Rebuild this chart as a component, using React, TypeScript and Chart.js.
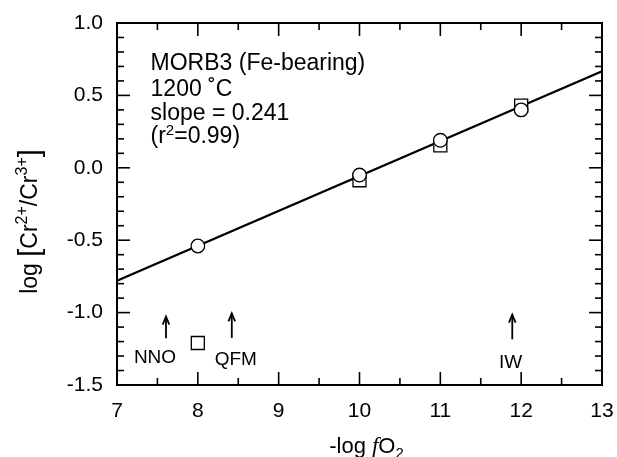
import React, { useEffect, useRef } from 'react';
import { Chart, registerables } from 'chart.js';

Chart.register(...registerables);

// ---- data ----
const xTickValues = [7, 8, 9, 10, 11, 12, 13];
const xMinorTicks = [7.5, 8.5, 9.5, 10.5, 11.5, 12.5];
const yTickValues = [-1.5, -1.0, -0.5, 0.0, 0.5, 1.0];
const yMinorTicks = [-1.4, -1.3, -1.2, -1.1, -0.9, -0.8, -0.7, -0.6, -0.4, -0.3, -0.2, -0.1, 0.1, 0.2, 0.3, 0.4, 0.6, 0.7, 0.8, 0.9];

const circleX = [8, 10, 11, 12];
const circleY = [-0.54, -0.05, 0.19, 0.40];
const squareX = [8, 10, 11, 12];
const squareY = [-1.21, -0.086, 0.155, 0.43];

const fitX = [7, 13];
const fitY = [-0.78, 0.666];

const bufferNames = ['NNO', 'QFM', 'IW'];
const bufferArrowX = [7.606, 8.42, 11.89];
const arrowTipY = [-1.028, -1.005, -1.014];
const arrowTailY = [-1.177, -1.175, -1.184];
const bufferLabelX = [7.47, 8.47, 11.87];
const bufferLabelY = [-1.35, -1.362, -1.38];

// each info line is a list of [text, isSuperscript] pieces
const infoLines: [string, boolean][][] = [
  [['MORB3 (Fe-bearing)', false]],
  [['1200 ˚C', false]],
  [['slope = 0.241', false]],
  [['(r', false], ['2', true], ['=0.99)', false]],
];
const infoX = 7.415;
const infoY = [0.675, 0.496, 0.33, 0.169];

const FONT = '"Liberation Sans", Arial, Helvetica, sans-serif';

const decorPlugin = {
  id: 'decor',
  afterDatasetsDraw(chart: any) {
    const { ctx, chartArea: a, scales } = chart;
    const xs = scales.x;
    const ys = scales.y;
    ctx.save();
    ctx.strokeStyle = '#000';
    ctx.fillStyle = '#000';

    const seg = (x1: number, y1: number, x2: number, y2: number) => {
      ctx.beginPath();
      ctx.moveTo(x1, y1);
      ctx.lineTo(x2, y2);
      ctx.stroke();
    };

    // ticks (inward, on all four sides)
    const MAJOR = 13;
    const MINOR = 7;
    ctx.lineWidth = 1.6;
    xTickValues.forEach((v) => {
      const p = xs.getPixelForValue(v);
      seg(p, a.bottom, p, a.bottom - MAJOR);
      seg(p, a.top, p, a.top + MAJOR);
    });
    xMinorTicks.forEach((v) => {
      const p = xs.getPixelForValue(v);
      seg(p, a.bottom, p, a.bottom - MINOR);
      seg(p, a.top, p, a.top + MINOR);
    });
    yTickValues.forEach((v) => {
      const p = ys.getPixelForValue(v);
      seg(a.left, p, a.left + MAJOR, p);
      seg(a.right, p, a.right - MAJOR, p);
    });
    yMinorTicks.forEach((v) => {
      const p = ys.getPixelForValue(v);
      seg(a.left, p, a.left + MINOR, p);
      seg(a.right, p, a.right - MINOR, p);
    });

    // frame
    ctx.lineWidth = 2;
    ctx.strokeRect(a.left, a.top, a.right - a.left, a.bottom - a.top);

    // buffer arrows
    ctx.lineWidth = 1.8;
    bufferNames.forEach((name, i) => {
      const px = xs.getPixelForValue(bufferArrowX[i]);
      const tip = ys.getPixelForValue(arrowTipY[i]);
      const tail = ys.getPixelForValue(arrowTailY[i]);
      seg(px, tail, px, tip);
      ctx.beginPath();
      ctx.moveTo(px - 3.3, tip + 8);
      ctx.lineTo(px, tip);
      ctx.lineTo(px + 3.3, tip + 8);
      ctx.stroke();
      ctx.font = `19px ${FONT}`;
      ctx.textAlign = 'center';
      ctx.textBaseline = 'alphabetic';
      ctx.fillText(name, xs.getPixelForValue(bufferLabelX[i]), ys.getPixelForValue(bufferLabelY[i]));
    });

    // info text
    ctx.textAlign = 'left';
    ctx.textBaseline = 'alphabetic';
    infoLines.forEach((pieces, i) => {
      let x = xs.getPixelForValue(infoX);
      const base = ys.getPixelForValue(infoY[i]);
      pieces.forEach(([t, sup]) => {
        ctx.font = sup ? `15px ${FONT}` : `23px ${FONT}`;
        ctx.fillText(t, x, base - (sup ? 8 : 0));
        x += ctx.measureText(t).width;
      });
    });

    // x-axis title: -log fO2
    {
      const parts = [
        { t: '-log ', f: `22px ${FONT}`, dy: 0 },
        { t: 'f', f: `italic 23px "Liberation Serif", "Times New Roman", serif`, dy: 0 },
        { t: 'O', f: `22px ${FONT}`, dy: 0 },
        { t: '2', f: `15px ${FONT}`, dy: 5 },
      ];
      let total = 0;
      parts.forEach((p) => { ctx.font = p.f; total += ctx.measureText(p.t).width; });
      let x = (a.left + a.right) / 2 + 7 - total / 2;
      const base = 452.5;
      ctx.textAlign = 'left';
      parts.forEach((p) => {
        ctx.font = p.f;
        ctx.fillText(p.t, x, base + p.dy);
        x += ctx.measureText(p.t).width;
      });
    }

    // y-axis title: log [Cr2+/Cr3+]
    {
      const parts = [
        { t: 'log ', f: `23px ${FONT}`, dy: 0 },
        { t: '[', f: `29px ${FONT}`, dy: 2 },
        { t: 'Cr', f: `23px ${FONT}`, dy: 0 },
        { t: '2+', f: `16px ${FONT}`, dy: -10 },
        { t: '/Cr', f: `23px ${FONT}`, dy: 0 },
        { t: '3+', f: `16px ${FONT}`, dy: -10 },
        { t: ']', f: `29px ${FONT}`, dy: 2 },
      ];
      let total = 0;
      parts.forEach((p) => { ctx.font = p.f; total += ctx.measureText(p.t).width; });
      ctx.save();
      ctx.translate(37, 221.5);
      ctx.rotate(-Math.PI / 2);
      let x = -total / 2;
      ctx.textAlign = 'left';
      parts.forEach((p) => {
        ctx.font = p.f;
        ctx.fillText(p.t, x, p.dy);
        x += ctx.measureText(p.t).width;
      });
      ctx.restore();
    }

    ctx.restore();
  },
};

export default function App() {
  const ref = useRef<HTMLCanvasElement | null>(null);

  useEffect(() => {
    if (!ref.current) return;
    const chart = new Chart(ref.current, {
      type: 'scatter',
      data: {
        datasets: [
          {
            label: 'circles',
            data: circleX.map((x, i) => ({ x, y: circleY[i] })),
            pointStyle: 'circle',
            pointRadius: 6.8,
            backgroundColor: '#ffffff',
            borderColor: '#000000',
            borderWidth: 1.3,
          },
          {
            label: 'squares',
            data: squareX.map((x, i) => ({ x, y: squareY[i] })),
            pointStyle: 'rect',
            pointRadius: 9.2,
            backgroundColor: '#ffffff',
            borderColor: '#000000',
            borderWidth: 1.3,
          },
          {
            label: 'fit',
            data: fitX.map((x, i) => ({ x, y: fitY[i] })),
            showLine: true,
            pointRadius: 0,
            borderColor: '#000000',
            borderWidth: 2.2,
            fill: false,
          } as any,
        ],
      },
      options: {
        animation: false,
        responsive: false,
        devicePixelRatio: 1,
        layout: { padding: { top: 23, right: 15, left: 0, bottom: 0 } },
        plugins: {
          legend: { display: false },
          tooltip: { enabled: false },
          title: { display: false },
        },
        scales: {
          x: {
            type: 'linear',
            min: 7,
            max: 13,
            grid: { display: false, drawTicks: true, tickLength: 12 },
            border: { display: false },
            ticks: {
              stepSize: 1,
              color: '#000',
              padding: 2,
              font: { size: 21, family: FONT },
              callback: (v: any) => String(v),
            },
            afterFit: (s: any) => { s.height = 72; },
          },
          y: {
            type: 'linear',
            min: -1.5,
            max: 1.0,
            grid: { display: false, drawTicks: true, tickLength: 12 },
            border: { display: false },
            ticks: {
              stepSize: 0.5,
              color: '#000',
              padding: 2,
              font: { size: 21, family: FONT },
              callback: (v: any) => Number(v).toFixed(1),
            },
            afterFit: (s: any) => { s.width = 117; },
          },
        },
      },
      plugins: [decorPlugin],
    });
    return () => chart.destroy();
  }, []);

  return (
    <div style={{ position: 'absolute', left: 0, top: 0, width: 617, height: 457, background: '#fff' }}>
      <canvas ref={ref} width={617} height={457} style={{ display: 'block' }} />
    </div>
  );
}
